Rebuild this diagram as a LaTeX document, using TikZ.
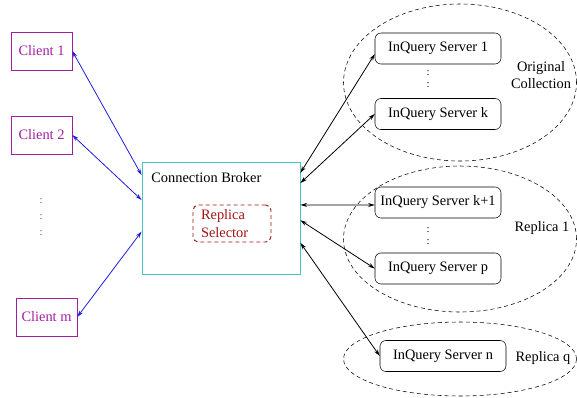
\documentclass[tikz,border=0pt]{standalone}
\usepackage{fontspec}
\setmainfont{Liberation Serif}
\usetikzlibrary{arrows.meta,calc,positioning,shapes.geometric}
\definecolor{clientcol}{RGB}{160,30,160}
\definecolor{brokercol}{RGB}{70,195,195}
\definecolor{selectcol}{RGB}{160,20,20}
\definecolor{linkcol}{RGB}{30,30,225}
\def\figunit{0.75pt}
\def\figclientwidth{61*\figunit}
\def\figclientheight{38*\figunit}
\def\figserverwidth{126*\figunit}
\def\figserverheight{31*\figunit}
\def\figgroupwidth{233*\figunit}

\begin{document}
\begin{tikzpicture}[
  x=\figunit,y=-\figunit,
  font=\fontsize{10.8}{13}\selectfont,
  >={Stealth[length=5pt,width=3pt]},
  client/.style={draw=clientcol,text=clientcol,minimum width=\figclientwidth,minimum height=\figclientheight,inner sep=0pt},
  server/.style={draw,rounded corners=4.5pt,minimum width=\figserverwidth,minimum height=\figserverheight,inner sep=0pt},
  group/.style={draw,dash pattern=on 3pt off 2.25pt,ellipse,inner sep=0pt,minimum width=\figgroupwidth},
  dots/.style={inner sep=0pt,align=center},
  link/.style={<->,linkcol,line width=.6pt},
  serverlink/.style={<->,line width=.6pt},
]
\useasboundingbox (0,0) rectangle (577,397);

%%%%%%%%%%%%%%%
% Clients
%%%%%%%%%%%%%%%
\node (client1) [client] at (41.5,51) {Client 1};
\node (client2) [client] at (41.5,135) {Client 2};
\node (clientm) [client] at (46.5,317) {Client m};
\node (cdots) [dots,text=clientcol,font=\fontsize{8}{12}\selectfont] at (41,217) {:\\:\\:};

%%%%%%%%%%%%%%%
% Broker
%%%%%%%%%%%%%%%
\node (broker) [draw=brokercol,line width=.6pt,minimum width={158*\figunit},minimum height={112*\figunit}] at (221,218) {};
\node (brokertitle) [anchor=west] at ($(broker.north west)+(5,16)$) {Connection Broker};
\node (selector) [
  draw=selectcol,text=selectcol,line width=.7pt,dash pattern=on 3pt off 2.25pt,rounded corners=4pt,
  text width={62*\figunit},inner xsep={8*\figunit},minimum height={37*\figunit},align=left,
  font=\fontsize{10.8}{13.5}\selectfont
] at (232,223.5) {Replica\\Selector};

%%%%%%%%%%%%%%%
% Servers
%%%%%%%%%%%%%%%
% Original collection
\node (server1) [server] at (438,48.5) {InQuery Server 1};
\node (serverk) [server] at (438,114) {InQuery Server k};
\node (odots) [dots,font=\fontsize{8}{9}\selectfont] at (428,79) {:\\:};
\node (orig) [group,minimum height={157*\figunit}] at (460,82.5) {};
\node (origlabel) [align=center] at (541,75) {Original\\Collection};

% Replica 1
\node (serverk1) [server] at (438,202.5) {InQuery Server k+1};
\node (serverp) [server] at (438,268.5) {InQuery Server p};
\node (rdots) [dots,font=\fontsize{8}{9}\selectfont] at (428,236) {:\\:};
\node (rep1) [group,minimum height={146*\figunit}] at (460,239) {};
\node (rep1label) at (542,228) {Replica 1};

% Replica q
\node (servern) [server] at (443,356) {InQuery Server n};
\node (repq) [group,minimum height={74*\figunit}] at (460,359) {};
\node (repqlabel) at (543,358) {Replica q};

%%%%%%%%%%%%%%%
% Links
%%%%%%%%%%%%%%%
\draw [link] (client1.east) -- ($(broker.north west)!.12!(broker.south west)$);
\draw [link] (client2.east) -- ($(broker.north west)!.34!(broker.south west)$);
\draw [link] (clientm.east) -- ($(broker.north west)!.62!(broker.south west)$);

\draw [serverlink] ($(broker.north east)!.10!(broker.south east)$) -- (server1.185);
\draw [serverlink] ($(broker.north east)!.19!(broker.south east)$) -- (serverk.west);
\draw [serverlink] ($(broker.north east)!.384!(broker.south east)$) -- (serverk1.west |- 0,205);
\draw [serverlink] ($(broker.north east)!.52!(broker.south east)$) -- (serverp.west);
\draw [serverlink] ($(broker.north east)!.72!(broker.south east)$) -- (servern.west);

\end{tikzpicture}
\end{document}
